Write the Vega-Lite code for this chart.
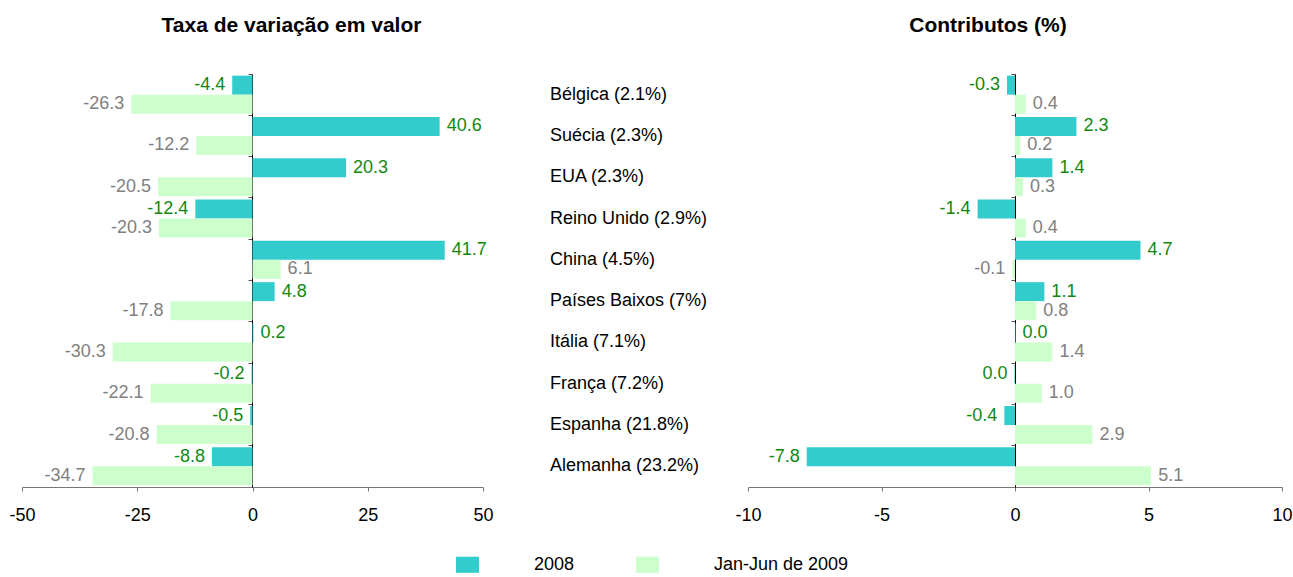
{
  "$schema": "https://vega.github.io/schema/vega-lite/v6.json",
  "background": "white",
  "padding": {"left": 8, "top": 14, "right": 2, "bottom": 5},
  "bounds": "flush",
  "spacing": 67,
  "config": {
    "font": "Liberation Sans",
    "view": {"stroke": null},
    "locale": {"number": {"decimal": ".", "thousands": ",", "grouping": [3], "currency": ["$", ""], "minus": "-"}},
    "axis": {"labelFont": "Liberation Sans", "labelFontSize": 18, "labelColor": "#000000", "grid": false},
    "title": {"font": "Liberation Sans", "fontSize": 21, "fontWeight": "bold", "color": "#000000"}
  },
  "data": {
    "values": [
      {"pais": "Bélgica (2.1%)", "serie": "2008", "taxa": -4.4, "contrib": -0.3},
      {"pais": "Bélgica (2.1%)", "serie": "Jan-Jun de 2009", "taxa": -26.3, "contrib": 0.4},
      {"pais": "Suécia (2.3%)", "serie": "2008", "taxa": 40.6, "contrib": 2.3},
      {"pais": "Suécia (2.3%)", "serie": "Jan-Jun de 2009", "taxa": -12.2, "contrib": 0.2},
      {"pais": "EUA (2.3%)", "serie": "2008", "taxa": 20.3, "contrib": 1.4},
      {"pais": "EUA (2.3%)", "serie": "Jan-Jun de 2009", "taxa": -20.5, "contrib": 0.3},
      {"pais": "Reino Unido (2.9%)", "serie": "2008", "taxa": -12.4, "contrib": -1.4},
      {"pais": "Reino Unido (2.9%)", "serie": "Jan-Jun de 2009", "taxa": -20.3, "contrib": 0.4},
      {"pais": "China (4.5%)", "serie": "2008", "taxa": 41.7, "contrib": 4.7},
      {"pais": "China (4.5%)", "serie": "Jan-Jun de 2009", "taxa": 6.1, "contrib": -0.1},
      {"pais": "Países Baixos  (7%)", "serie": "2008", "taxa": 4.8, "contrib": 1.1},
      {"pais": "Países Baixos  (7%)", "serie": "Jan-Jun de 2009", "taxa": -17.8, "contrib": 0.8},
      {"pais": "Itália (7.1%)", "serie": "2008", "taxa": 0.2, "contrib": 0.02},
      {"pais": "Itália (7.1%)", "serie": "Jan-Jun de 2009", "taxa": -30.3, "contrib": 1.4},
      {"pais": "França (7.2%)", "serie": "2008", "taxa": -0.2, "contrib": -0.02},
      {"pais": "França (7.2%)", "serie": "Jan-Jun de 2009", "taxa": -22.1, "contrib": 1.0},
      {"pais": "Espanha (21.8%)", "serie": "2008", "taxa": -0.5, "contrib": -0.4},
      {"pais": "Espanha (21.8%)", "serie": "Jan-Jun de 2009", "taxa": -20.8, "contrib": 2.9},
      {"pais": "Alemanha (23.2%)", "serie": "2008", "taxa": -8.8, "contrib": -7.8},
      {"pais": "Alemanha (23.2%)", "serie": "Jan-Jun de 2009", "taxa": -34.7, "contrib": 5.1}
    ]
  },
  "hconcat": [
    {
      "width": 461,
      "height": 413,
      "title": {"text": "Taxa de variação em valor", "dx": 39, "offset": 38},
      "encoding": {
        "y": {"field": "pais", "type": "nominal", "sort": null,
              "scale": {"paddingInner": 0, "paddingOuter": 0},
              "axis": {"title": null, "labels": false, "offset": -230, "bandPosition": 0, "domainColor": "#000000", "tickColor": "#555555", "tickSize": 4}},
        "yOffset": {"field": "serie", "type": "nominal", "sort": null, "scale": {"paddingInner": 0, "paddingOuter": 0.087}}
      },
      "layer": [
        {
          "mark": {"type": "bar"},
          "encoding": {
            "x": {"field": "taxa", "type": "quantitative", "scale": {"domain": [-50, 50], "nice": false},
                  "axis": {"title": null, "values": [-50, -25, 0, 25, 50], "labelFlush": false, "domainColor": "#777777", "tickColor": "#777777", "tickSize": 4, "labelPadding": 15}},
            "color": {"field": "serie", "type": "nominal", "sort": null,
                      "scale": {"domain": ["2008", "Jan-Jun de 2009"], "range": ["#33CCCC", "#CCFFCC"]},
                      "legend": {"orient": "none", "legendX": 434, "legendY": 479, "direction": "horizontal", "title": null, "padding": 0,
                                 "symbolType": "M-1,-0.7L1,-0.7L1,0.7L-1,0.7Z", "symbolSize": 529, "symbolStrokeWidth": 0,
                                 "labelFontSize": 18, "labelFont": "Liberation Sans", "labelColor": "#000000",
                                 "labelOffset": 55, "columnPadding": 61}}
          }
        },
        {
          "transform": [{"filter": "datum.taxa >= 0"}],
          "mark": {"type": "text", "align": "left", "baseline": "middle", "dx": 7, "fontSize": 18},
          "encoding": {
            "x": {"field": "taxa", "type": "quantitative"},
            "text": {"field": "taxa", "type": "quantitative", "format": ".1f"},
            "color": {"condition": {"test": "datum.serie === '2008'", "value": "#118811"}, "value": "#808080"}
          }
        },
        {
          "transform": [{"filter": "datum.taxa < 0"}],
          "mark": {"type": "text", "align": "right", "baseline": "middle", "dx": -7, "fontSize": 18},
          "encoding": {
            "x": {"field": "taxa", "type": "quantitative"},
            "text": {"field": "taxa", "type": "quantitative", "format": ".1f"},
            "color": {"condition": {"test": "datum.serie === '2008'", "value": "#118811"}, "value": "#808080"}
          }
        }
      ]
    },
    {
      "width": 131,
      "height": 413,
      "transform": [{"filter": "datum.serie === '2008'"}],
      "mark": {"type": "text", "align": "left", "baseline": "middle", "fontSize": 18, "fontWeight": "normal", "color": "#000000"},
      "encoding": {
        "y": {"field": "pais", "type": "nominal", "sort": null, "scale": {"paddingInner": 0, "paddingOuter": 0}, "axis": null},
        "x": {"datum": 0, "type": "quantitative", "scale": {"domain": [0, 1]}, "axis": null},
        "text": {"field": "pais", "type": "nominal"}
      }
    },
    {
      "width": 534,
      "height": 413,
      "title": {"text": "Contributos (%)", "dx": -27, "offset": 38},
      "encoding": {
        "y": {"field": "pais", "type": "nominal", "sort": null,
              "scale": {"paddingInner": 0, "paddingOuter": 0},
              "axis": {"title": null, "labels": false, "offset": -267, "bandPosition": 0, "domainColor": "#000000", "tickColor": "#555555", "tickSize": 4}},
        "yOffset": {"field": "serie", "type": "nominal", "sort": null, "scale": {"paddingInner": 0, "paddingOuter": 0.087}}
      },
      "layer": [
        {
          "mark": {"type": "bar"},
          "encoding": {
            "x": {"field": "contrib", "type": "quantitative", "scale": {"domain": [-10, 10], "nice": false},
                  "axis": {"title": null, "values": [-10, -5, 0, 5, 10], "labelFlush": false, "domainColor": "#777777", "tickColor": "#777777", "tickSize": 4, "labelPadding": 15}},
            "color": {"field": "serie", "type": "nominal", "sort": null,
                      "scale": {"domain": ["2008", "Jan-Jun de 2009"], "range": ["#33CCCC", "#CCFFCC"]}}
          }
        },
        {
          "transform": [{"filter": "datum.contrib >= 0"}],
          "mark": {"type": "text", "align": "left", "baseline": "middle", "dx": 7, "fontSize": 18},
          "encoding": {
            "x": {"field": "contrib", "type": "quantitative"},
            "text": {"field": "contrib", "type": "quantitative", "format": ".1f"},
            "color": {"condition": {"test": "datum.serie === '2008'", "value": "#118811"}, "value": "#808080"}
          }
        },
        {
          "transform": [{"filter": "datum.contrib < 0"}],
          "mark": {"type": "text", "align": "right", "baseline": "middle", "dx": -7, "fontSize": 18},
          "encoding": {
            "x": {"field": "contrib", "type": "quantitative"},
            "text": {"field": "contrib", "type": "quantitative", "format": ".1f"},
            "color": {"condition": {"test": "datum.serie === '2008'", "value": "#118811"}, "value": "#808080"}
          }
        }
      ]
    }
  ]
}
